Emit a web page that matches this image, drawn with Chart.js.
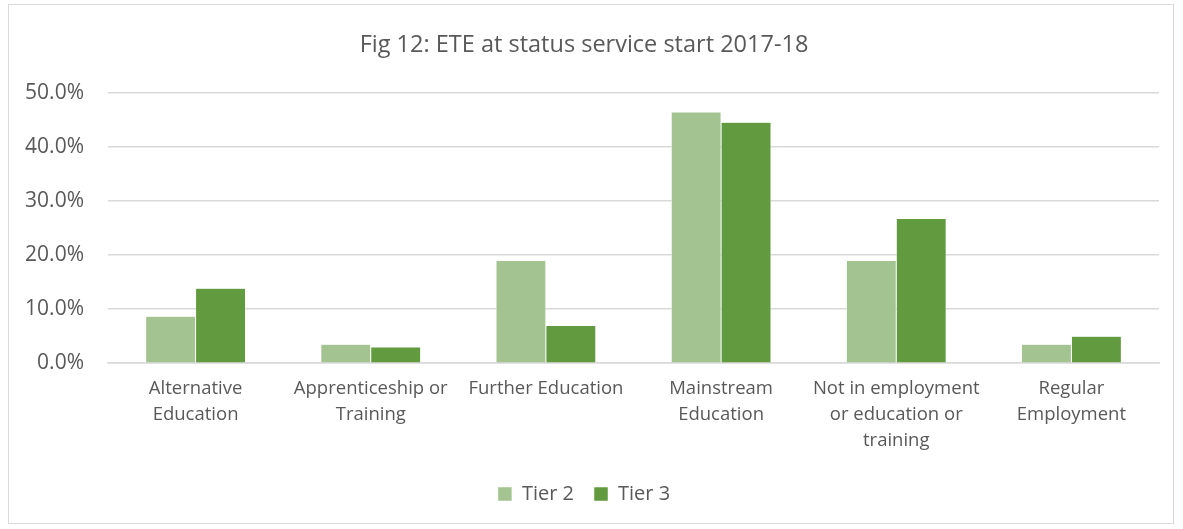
<!DOCTYPE html>
<html>
<head>
<meta charset="utf-8">
<script src="https://cdn.jsdelivr.net/npm/chart.js@4/dist/chart.umd.min.js"></script>
<style>
  html, body { margin: 0; padding: 0; background: #fff; }
  #wrap {
    position: absolute; left: 8px; top: 4px; width: 1166px; height: 520px;
    border: 1px solid #d9d9d9; box-sizing: border-box;
  }
</style>
</head>
<body>
<div id="wrap"><canvas id="etaChart"></canvas></div>
<script>
const categories = [
    ['Alternative', 'Education'],
    ['Apprenticeship or', 'Training'],
    ['Further Education'],
    ['Mainstream', 'Education'],
    ['Not in employment', 'or education or', 'training'],
    ['Regular', 'Employment']
];
const tier2 = [8.7, 3.5, 19.0, 46.5, 19.0, 3.5];
const tier3 = [13.9, 3.0, 7.0, 44.6, 26.8, 5.0];

document.addEventListener("DOMContentLoaded", function() {
    const ctx = document.getElementById('etaChart').getContext('2d');
    const grey = '#595959';
    const font = "'Open Sans', 'Noto Sans', sans-serif";

    new Chart(ctx, {
        type: 'bar',
        data: {
            labels: categories,
            datasets: [{
                label: 'Tier 2',
                data: tier2,
                backgroundColor: '#a3c491',
                borderColor: '#ffffff',
                borderWidth: 0.5,
                categoryPercentage: 0.57,
                barPercentage: 1.0
            }, {
                label: 'Tier 3',
                data: tier3,
                backgroundColor: '#629a3f',
                borderColor: '#ffffff',
                borderWidth: 0.5,
                categoryPercentage: 0.57,
                barPercentage: 1.0
            }]
        },
        options: {
            responsive: true,
            maintainAspectRatio: false,
            animation: false,
            layout: { padding: { left: 0, right: 14, top: 18, bottom: 9 } },
            plugins: {
                title: {
                    display: true,
                    text: 'Fig 12: ETE at status service start 2017-18',
                    color: grey,
                    font: { family: font, size: 23.5, weight: 'normal' },
                    padding: { top: 8, bottom: 34 }
                },
                legend: {
                    position: 'bottom',
                    labels: {
                        color: grey,
                        font: { family: font, size: 20 },
                        boxWidth: 14,
                        boxHeight: 14,
                        padding: 20
                    }
                },
                tooltip: { enabled: false }
            },
            scales: {
                x: {
                    grid: { display: false },
                    border: { color: '#d9d9d9', width: 1.5 },
                    afterFit: scale => { scale.height += 6; },
                    ticks: {
                        color: grey,
                        padding: 4,
                        font: { family: font, size: 18.5, lineHeight: 1.42 },
                        maxRotation: 0,
                        autoSkip: false
                    }
                },
                y: {
                    min: 0,
                    max: 50,
                    grid: { color: '#d9d9d9', lineWidth: 1.5, drawTicks: false },
                    border: { display: false },
                    afterFit: scale => { scale.width = 99; },
                    ticks: {
                        stepSize: 10,
                        color: grey,
                        padding: 24,
                        font: { family: font, size: 21 },
                        callback: v => v.toFixed(1) + '%'
                    }
                }
            }
        }
    });
});
</script>
</body>
</html>
